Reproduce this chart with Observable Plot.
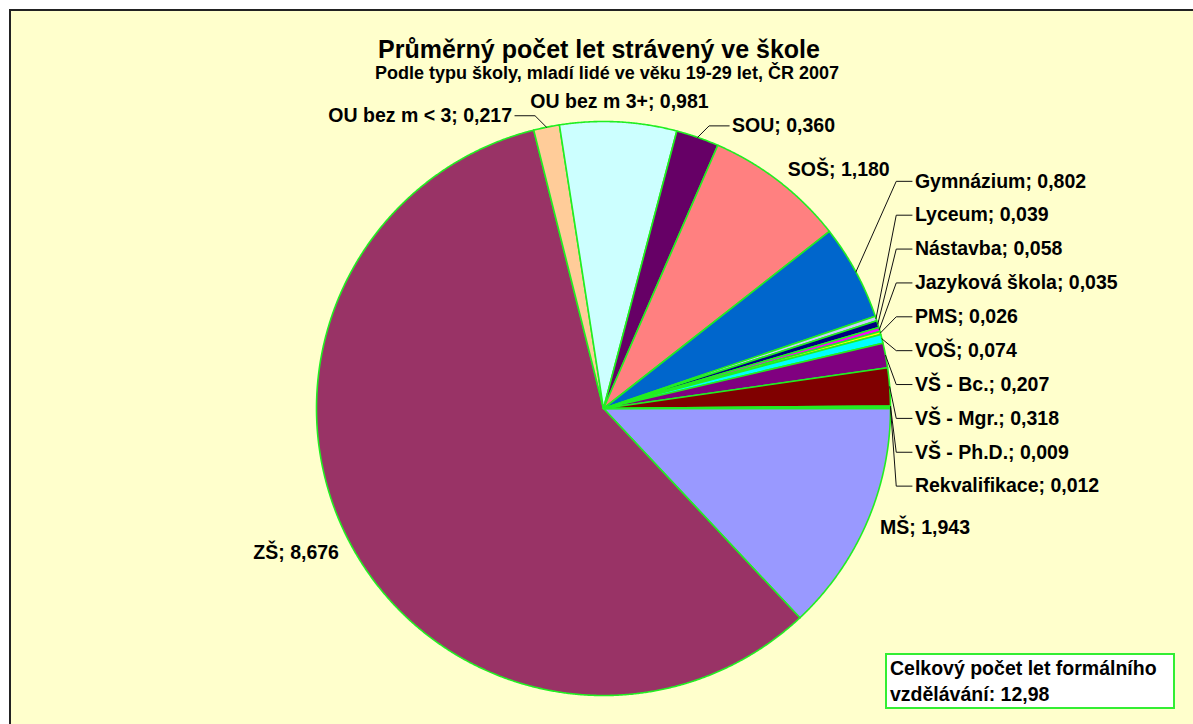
<!DOCTYPE html>
<html>
<head>
<meta charset="utf-8">
<script src="https://cdn.jsdelivr.net/npm/d3@7"></script>
<script src="https://cdn.jsdelivr.net/npm/@observablehq/plot@0.6"></script>
<style>
  html, body { margin: 0; padding: 0; background: #ffffff; overflow: hidden; }
  #frame { position: absolute; left: 9px; top: 9px; width: 1200px; height: 730px;
    background: #FFFFCC; border-top: 2px solid #222; border-left: 2px solid #222;
    font-family: "Liberation Sans", Arial, sans-serif; overflow: hidden; }
  #title { position: absolute; left: 0; top: 24px; width: 1176px; text-align: center;
    font-weight: bold; font-size: 25px; line-height: 29px; color: #000; }
  #subtitle { position: absolute; left: 8px; top: 52px; width: 1176px; text-align: center;
    font-weight: bold; font-size: 18px; line-height: 21px; color: #000; }
  #chart { position: absolute; left: 0; top: 77px; }
  #box { position: absolute; left: 874px; top: 642px; width: 280px; height: 52px;
    background: #fff; border: 2px solid #33EE33; padding: 0 3px;
    font-weight: bold; font-size: 19.5px; line-height: 26px; color: #000; }
</style>
</head>
<body>
<div id="frame">
  <div id="title"></div>
  <div id="subtitle"></div>
  <div id="chart"></div>
  <div id="box"></div>
</div>
<script>
// ---- data ----
const titleText = "Průměrný počet let strávený ve škole";
const subtitleText = "Podle typu školy, mladí lidé ve věku 19-29 let, ČR 2007";
const categories = ["MŠ", "ZŠ", "OU bez m < 3", "OU bez m 3+", "SOU", "SOŠ", "Gymnázium", "Lyceum",
  "Nástavba", "Jazyková škola", "PMS", "VOŠ", "VŠ - Bc.", "VŠ - Mgr.", "VŠ - Ph.D.", "Rekvalifikace"];
const values = [1.943, 8.676, 0.217, 0.981, 0.360, 1.180, 0.802, 0.039,
  0.058, 0.035, 0.026, 0.074, 0.207, 0.318, 0.009, 0.012];
const totalLabel = "Celkový počet let formálního vzdělávání: ";
const totalYears = 12.98;

// ---- styles ----
const palette = ["#9999FF", "#993366", "#FFCC99", "#CCFFFF", "#660066", "#FF8080", "#0066CC", "#CCCCFF",
  "#000080", "#FF00FF", "#FFFF00", "#00FFFF", "#800080", "#800000", "#008080", "#0000FF"];
const edgeColor = "#22EE22";

document.getElementById("title").textContent = titleText;
document.getElementById("subtitle").textContent = subtitleText;
document.getElementById("box").textContent = totalLabel + totalYears.toFixed(2).replace(".", ",");

const fmt = v => v.toFixed(3).replace(".", ",");
const rows = categories.map((name, i) => ({name, value: values[i], color: palette[i]}));
const total = d3.sum(values);

// pie, first slice starting at 3 o'clock, clockwise
const arcs = d3.pie().sort(null).value(d => d.value)
  .startAngle(Math.PI / 2).endAngle(Math.PI / 2 + 2 * Math.PI)(rows);

// unit-radius coordinates: x = sin(a), y = -cos(a) (y grows downwards)
const px = (a, r) => r * Math.sin(a);
const py = (a, r) => -r * Math.cos(a);

const slicePolys = arcs.map(a => {
  const n = Math.max(2, Math.ceil((a.endAngle - a.startAngle) / (Math.PI / 720)));
  const pts = [{x: 0, y: 0}];
  for (let k = 0; k <= n; k++) {
    const t = a.startAngle + (a.endAngle - a.startAngle) * k / n;
    pts.push({x: px(t, 1), y: py(t, 1)});
  }
  pts.push({x: 0, y: 0});
  return {name: a.data.name, color: a.data.color, pts};
});

// ---- label layout ----
const labels = [];
const leaders = [];
const rightCol = [];
arcs.forEach(a => {
  const mid = (a.startAngle + a.endAngle) / 2;
  const m = ((mid % (2 * Math.PI)) + 2 * Math.PI) % (2 * Math.PI);
  const frac = a.data.value / total;
  const text = `${a.data.name}; ${fmt(a.data.value)}`;
  const s = Math.sin(m);
  if (frac >= 0.06) {
    const middle = Math.abs(s) < 0.3;
    const anchor = middle ? "middle" : (s > 0 ? "start" : "end");
    const k = middle ? 1.07 : 1.05;
    labels.push({text, x: px(m, k), y: py(m, k), anchor});
  } else if (m > Math.PI / 4 && m < 3 * Math.PI / 4) {
    rightCol.push({text, name: a.data.name, m, want: py(m, 1.22)});
  } else {
    const side = s > 0 ? 1 : -1;
    const ex = px(m, 1), ey = py(m, 1);
    const bx = ex + side * 0.04, by = ey - 0.04;
    const lx = bx + side * 0.08;
    leaders.push({name: a.data.name, x: ex, y: ey}, {name: a.data.name, x: bx, y: by},
      {name: a.data.name, x: lx - side * 0.01, y: by});
    labels.push({text, x: lx, y: by, anchor: side > 0 ? "start" : "end"});
  }
});

// stack right-hand labels: cluster-merge with a minimum vertical gap
const gap = 0.118;
rightCol.sort((a, b) => a.want - b.want);
let clusters = rightCol.map(d => ({items: [d]}));
const topOf = c => d3.mean(c.items, (d, i) => d.want - i * gap);
clusters.forEach(c => c.top = topOf(c));
let merged = true;
while (merged) {
  merged = false;
  for (let i = 0; i < clusters.length - 1; i++) {
    const a = clusters[i], b = clusters[i + 1];
    if (a.top + a.items.length * gap > b.top) {
      const c = {items: a.items.concat(b.items)};
      c.top = topOf(c);
      clusters.splice(i, 2, c);
      merged = true;
      break;
    }
  }
}
const colX = 1.085, elbowX = 1.02;
clusters.forEach(c => c.items.forEach((d, i) => {
  const y = c.top + i * gap;
  labels.push({text: d.text, x: colX, y, anchor: "start"});
  leaders.push({name: d.name, x: px(d.m, 1), y: py(d.m, 1)}, {name: d.name, x: elbowX, y},
    {name: d.name, x: colX - 0.01, y});
}));

// ---- plot ----
const W = 1182, H = 636, R = 287, CX = 592, CY = 320;
const font = {fontSize: 19.5, fontWeight: "bold", fontFamily: "'Liberation Sans', Arial, sans-serif",
  fill: "#000", lineAnchor: "middle"};

const marks = slicePolys.map(p => Plot.line(p.pts, {x: "x", y: "y", fill: p.color,
  stroke: edgeColor, strokeWidth: 1.6, strokeLinejoin: "round", curve: "linear"}));
marks.push(Plot.line(leaders, {x: "x", y: "y", z: "name", stroke: "#111", strokeWidth: 1, curve: "linear"}));
for (const anchor of ["start", "middle", "end"]) {
  marks.push(Plot.text(labels.filter(d => d.anchor === anchor),
    {x: "x", y: "y", text: "text", textAnchor: anchor, ...font}));
}

const chart = Plot.plot({
  width: W, height: H,
  margin: 0,
  x: {domain: [-CX / R, (W - CX) / R], range: [0, W], axis: null},
  y: {domain: [-CY / R, (H - CY) / R], range: [0, H], axis: null},
  style: {background: "transparent", overflow: "visible"},
  marks
});
document.getElementById("chart").appendChild(chart);
</script>
</body>
</html>
